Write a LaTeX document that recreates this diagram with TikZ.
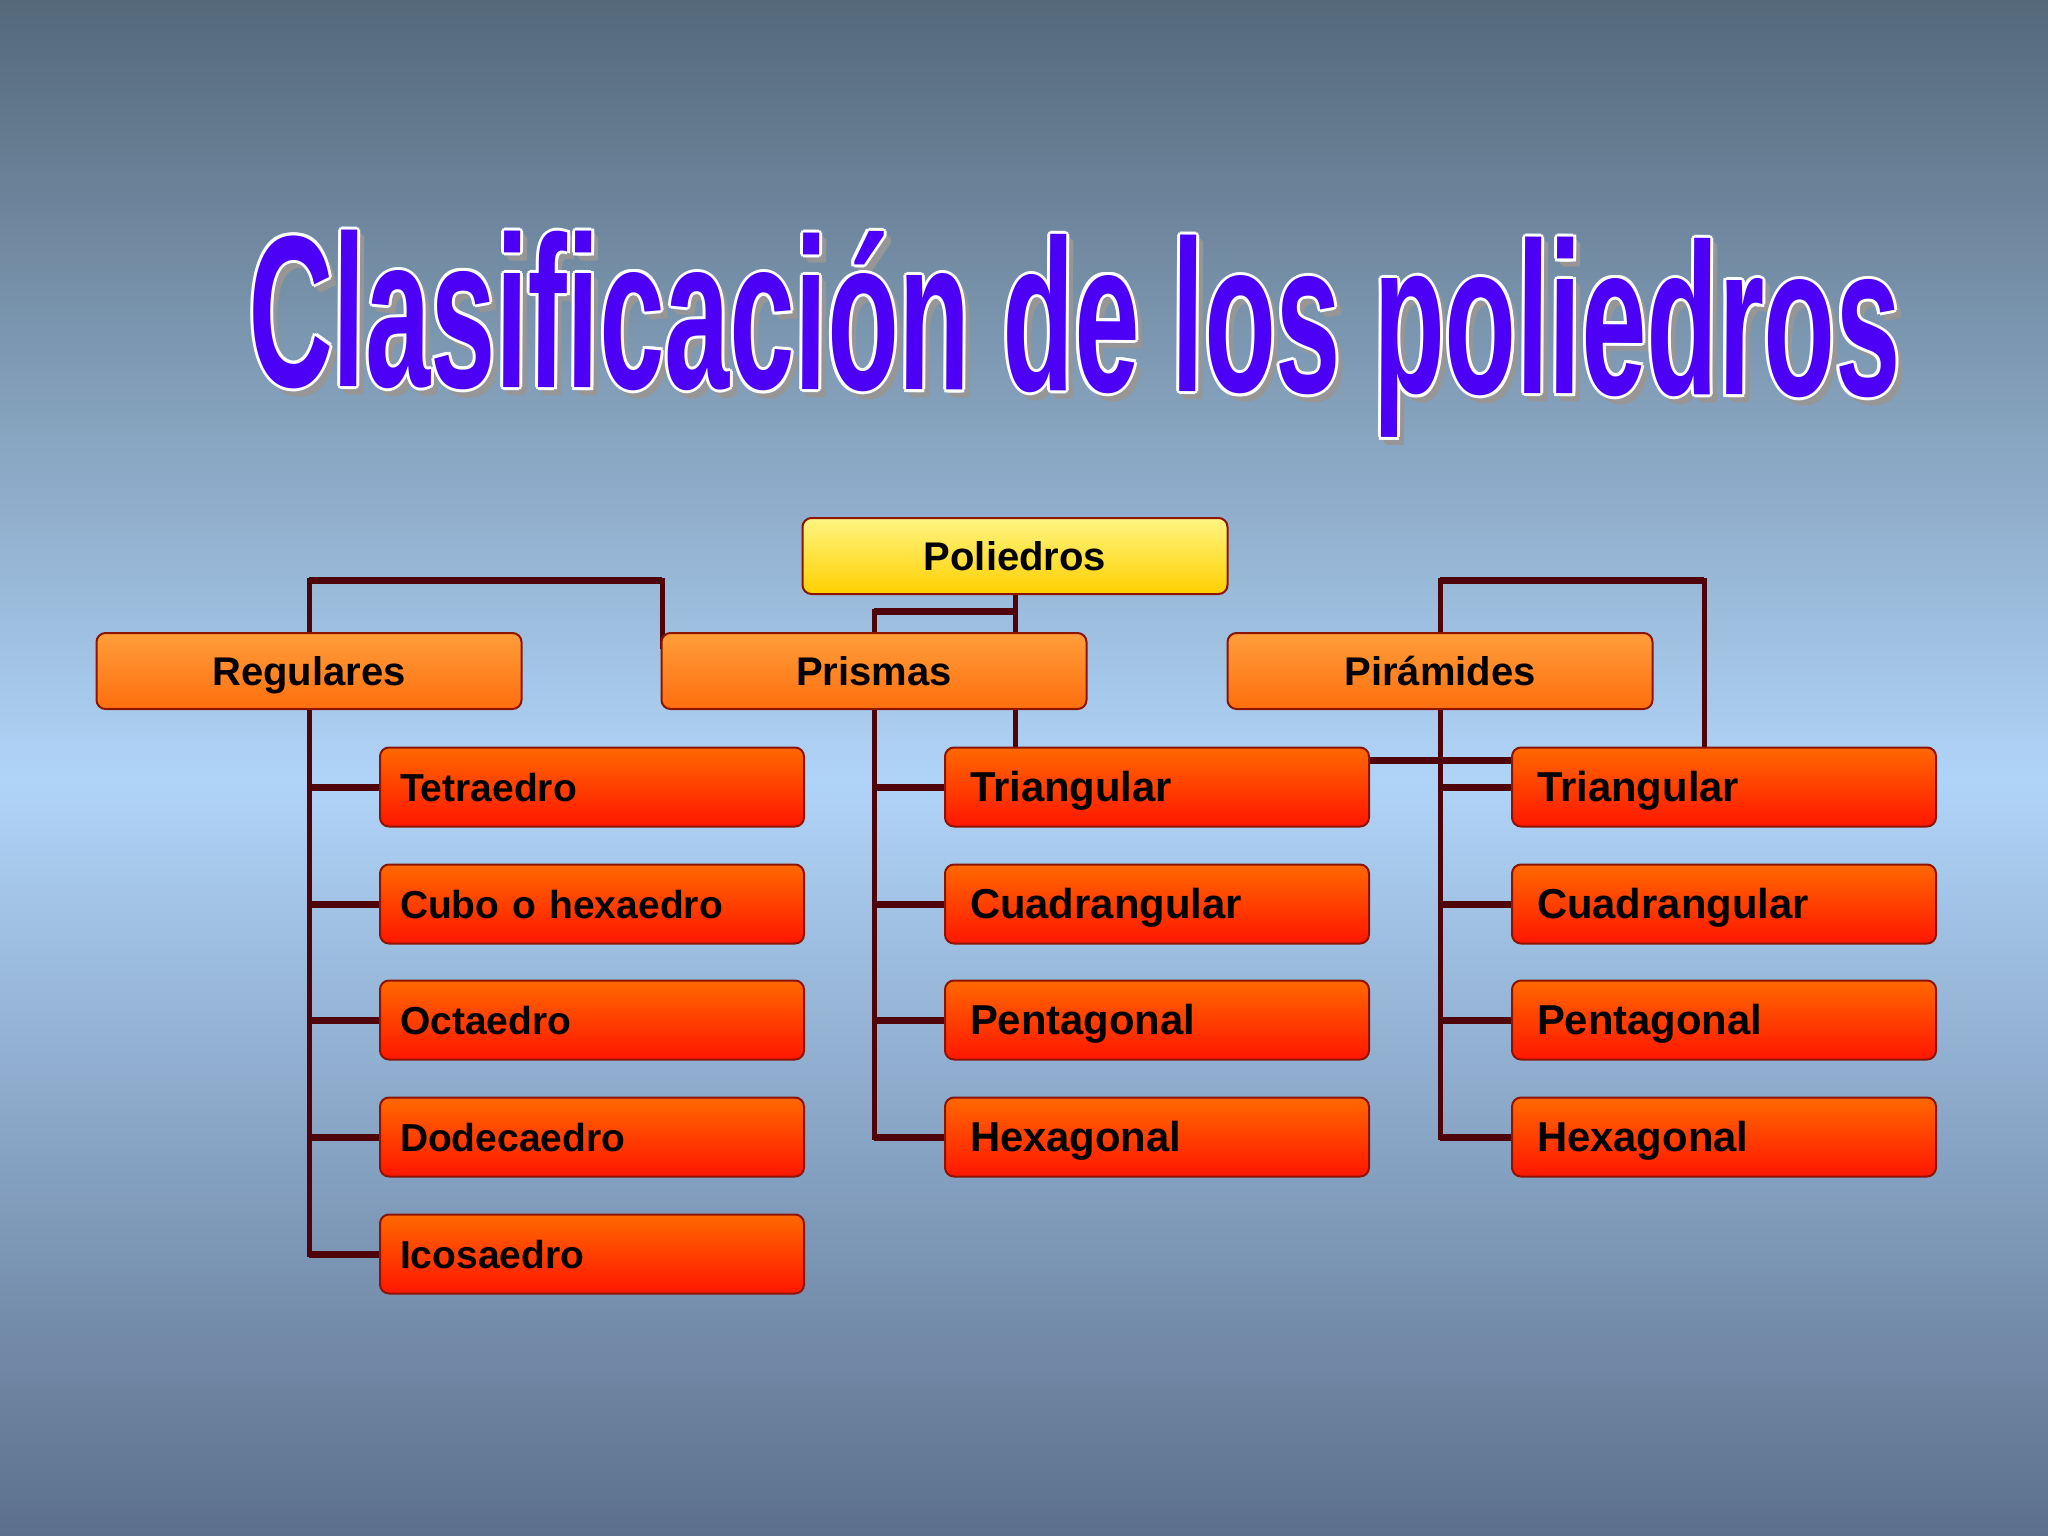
\documentclass[tikz,border=0pt]{standalone}
\usepackage{fontspec}
\setmainfont{Liberation Sans}
\newfontfamily\titlefont{Liberation Sans}[Ligatures=CommonOff]
\usetikzlibrary{calc}
\definecolor{bgtop}{RGB}{84,104,122}
\definecolor{bgmid}{RGB}{176,212,248}
\definecolor{bgbot}{RGB}{92,112,140}
\definecolor{connc}{RGB}{78,4,8}
\definecolor{edgec}{RGB}{140,20,0}
\definecolor{rtop}{RGB}{255,245,130}
\definecolor{rbot}{RGB}{255,208,0}
\definecolor{mtop}{RGB}{255,158,58}
\definecolor{mbot}{RGB}{255,110,14}
\definecolor{ltop}{RGB}{255,104,0}
\definecolor{lbot}{RGB}{255,22,0}
\definecolor{titlec}{RGB}{76,0,246}
\definecolor{shadowc}{RGB}{150,150,150}
\pgfdeclarelayer{back}
\pgfdeclarelayer{conn}
\pgfsetlayers{back,conn,main}
\newcommand\titletxt{\resizebox{1652pt}{\height}{\titlefont\fontsize{216}{216}\selectfont\bfseries Clasificación de los poliedros}}
\tikzset{
  box/.style={rounded corners=9pt, draw=edgec, line width=2pt, inner sep=0pt, text height=29pt, text depth=0pt},
  rootbox/.style={box, minimum width=425pt, minimum height=76pt, top color=rtop, bottom color=rbot, font=\fontsize{40}{40}\selectfont\bfseries},
  midbox/.style={box, minimum width=425pt, minimum height=76pt, top color=mtop, bottom color=mbot, font=\fontsize{40}{40}\selectfont\bfseries},
  leafbox/.style={box, anchor=west, minimum height=79pt, text width=384pt, inner xsep=20pt, align=left, top color=ltop, bottom color=lbot, font=\fontsize{39}{39}\selectfont\bfseries},
  leafboxb/.style={leafbox, text width=374pt, inner xsep=25pt, font=\fontsize{41.8}{41.8}\selectfont\bfseries},
  hline/.style={draw=connc, line width=7pt, line cap=butt},
  vline/.style={draw=connc, line width=5pt, line cap=rect},
  titlenode/.style={anchor=base west, inner sep=0pt, rotate=-0.35},
}
\begin{document}
\begin{tikzpicture}[x=1pt,y=-1pt]
\begin{pgfonlayer}{back}
\shade[top color=bgtop, bottom color=bgmid] (0,0) rectangle (2048,780);
\shade[top color=bgmid, bottom color=bgbot] (0,779) rectangle (2048,1536);
\end{pgfonlayer}
\useasboundingbox (0,0) rectangle (2048,1536);

% title
\coordinate (tt) at (248,386);
\foreach \dx/\dy in {3/6,7/6,5/4,5/8,7/8,3/4}
  \node[titlenode, text=shadowc] at ($(tt)+(\dx,\dy)$) {\titletxt};
\foreach \dx/\dy in {-3/0,3/0,0/-3,0/3,-2.2/-2.2,2.2/-2.2,-2.2/2.2,2.2/2.2}
  \node[titlenode, text=white] at ($(tt)+(\dx,\dy)$) {\titletxt};
\node[titlenode, text=titlec] (title) at (tt) {\titletxt};

% boxes
\node[rootbox] (root) at (1015,556) {Poliedros};
\node[midbox] (reg) at (309,671) {Regulares};
\node[midbox] (pri) at (874,671) {Prismas};
\node[midbox] (pir) at (1440,671) {Pirámides};

\node[leafbox] (r1) at (379,787) {Tetraedro};
\node[leafbox] (r2) at (379,904) {Cubo o hexaedro};
\node[leafbox] (r3) at (379,1020) {Octaedro};
\node[leafbox] (r4) at (379,1137) {Dodecaedro};
\node[leafbox] (r5) at (379,1254) {Icosaedro};

\node[leafboxb] (p1) at (944,787) {Triangular};
\node[leafboxb] (p2) at (944,904) {Cuadrangular};
\node[leafboxb] (p3) at (944,1020) {Pentagonal};
\node[leafboxb] (p4) at (944,1137) {Hexagonal};

\node[leafboxb] (y1) at (1511,787) {Triangular};
\node[leafboxb] (y2) at (1511,904) {Cuadrangular};
\node[leafboxb] (y3) at (1511,1020) {Pentagonal};
\node[leafboxb] (y4) at (1511,1137) {Hexagonal};

% connectors
\coordinate (regj) at (662,580);
\coordinate (regend) at (662,646);
\coordinate (prij) at (1016,611);
\coordinate (pirj) at (1704,580);
\begin{pgfonlayer}{conn}
\draw[vline] (reg.north) -- (reg.north |- regj);
\draw[hline] (reg.north |- regj) -- (regj);
\draw[vline] (regj) -- (regend);
\draw[vline] (root.south) -- (root.south |- pri.north);
\draw[hline] (prij) -- (pri.north |- prij);
\draw[vline] (pri.north |- prij) -- (pri.north);
\draw[vline] (root.south |- pri.south) -- (root.south |- p1.north);
\draw[vline] (pir.north) -- (pir.north |- pirj);
\draw[hline] (pir.north |- pirj) -- (pirj);
\draw[vline] (pirj) -- (pirj |- y1.north);
\draw[hline] ([yshift=-14pt]p1.north east) -- ([yshift=-14pt]y1.north west);
\draw[vline] (reg.south) -- (reg.south |- r5.west);
\foreach \n in {r1,r2,r3,r4,r5}
  \draw[hline] (reg.south |- \n.west) -- (\n.west);
\draw[vline] (pri.south) -- (pri.south |- p4.west);
\foreach \n in {p1,p2,p3,p4}
  \draw[hline] (pri.south |- \n.west) -- (\n.west);
\draw[vline] (pir.south) -- (pir.south |- y4.west);
\foreach \n in {y1,y2,y3,y4}
  \draw[hline] (pir.south |- \n.west) -- (\n.west);
\end{pgfonlayer}
\end{tikzpicture}
\end{document}
